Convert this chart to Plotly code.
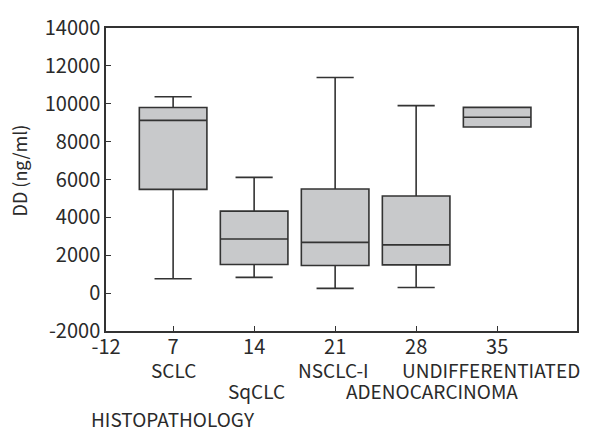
import plotly.graph_objects as go

# Data
positions = [7, 14, 21, 28, 35]
categories = ["SCLC", "SqCLC", "NSCLC-I", "ADENOCARCINOMA", "UNDIFFERENTIATED"]
lower_whisker = [760, 830, 250, 300, 8770]
q1_vals = [5480, 1510, 1460, 1490, 8770]
median_vals = [9120, 2860, 2680, 2550, 9290]
q3_vals = [9800, 4330, 5500, 5130, 9810]
upper_whisker = [10370, 6110, 11390, 9900, 9810]

x_tick_vals = [7, 14, 21, 28, 35]
x_tick_text = ["7", "14", "21", "28", "35"]
y_tick_vals = [-2000, 0, 2000, 4000, 6000, 8000, 10000, 12000, 14000]
y_tick_text = ["-2000", "0", "2000", "4000", "6000", "8000", "10000", "12000", "14000"]
y_label = "DD (ng/ml)"
x_label = "HISTOPATHOLOGY"

FONT = "Noto Sans CJK KR, Source Sans Pro, sans-serif"
TXT = "#2a2a2a"
LINE = "#333333"

fig = go.Figure()
fig.add_trace(go.Box(
    x=positions,
    q1=q1_vals,
    median=median_vals,
    q3=q3_vals,
    lowerfence=lower_whisker,
    upperfence=upper_whisker,
    width=5.84,
    whiskerwidth=0.55,
    fillcolor="#c8c9cb",
    line=dict(color=LINE, width=1.6),
    boxpoints=False,
    showlegend=False,
))

x_min, x_max = 1.2, 41.9

# category labels: row and small horizontal offsets
row_shift = [0, 1, 0, 1, 0]
x_shift = [0, 2, -2, 16, -6]
annotations = []
for pos, cat, r, xs in zip(positions, categories, row_shift, x_shift):
    annotations.append(dict(
        x=pos, xref="x", y=0, yref="paper",
        text=cat, showarrow=False, xanchor="center", yanchor="middle",
        xshift=xs, yshift=-38 - 21 * r,
        font=dict(family=FONT, size=19, color=TXT),
    ))
annotations.append(dict(
    x=0, xref="paper", y=0, yref="paper", text=x_label, showarrow=False,
    xanchor="left", yanchor="middle", xshift=-17, yshift=-87,
    font=dict(family=FONT, size=19, color=TXT),
))
annotations.append(dict(
    x=0, xref="paper", y=0.5, yref="paper", text=y_label, showarrow=False,
    xanchor="center", yanchor="middle", xshift=-88, yshift=9, textangle=-90,
    font=dict(family=FONT, size=18, color=TXT),
))

fig.update_layout(
    width=591, height=431,
    margin=dict(l=106, r=14, t=17, b=100),
    paper_bgcolor="white", plot_bgcolor="white",
    font=dict(family=FONT, size=20, color=TXT),
    annotations=annotations,
    xaxis=dict(
        range=[x_min, x_max],
        tickmode="array",
        tickvals=[x_min] + x_tick_vals,
        ticktext=["-12"] + x_tick_text,
        ticks="inside", ticklen=5, tickwidth=1.3, tickcolor=LINE,
        ticklabelstandoff=-3,
        showline=True, mirror=True, linecolor=LINE, linewidth=1.5,
        showgrid=False, zeroline=False,
        tickfont=dict(family=FONT, size=20, color=TXT),
    ),
    yaxis=dict(
        range=[-2000, 14000],
        tickmode="array", tickvals=y_tick_vals, ticktext=y_tick_text,
        ticks="inside", ticklen=5, tickwidth=1.3, tickcolor=LINE,
        showline=True, mirror=True, linecolor=LINE, linewidth=1.5,
        showgrid=False, zeroline=False,
        tickfont=dict(family=FONT, size=20, color=TXT),
    ),
)

fig.write_html("out.html")
